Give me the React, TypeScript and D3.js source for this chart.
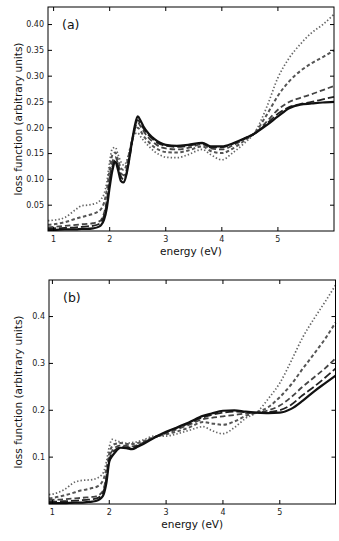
import React from "react";
import * as d3 from "d3";

// panel (a)
const energyA = [0.9, 1.0, 1.2, 1.4, 1.5, 1.6, 1.7, 1.8, 1.85, 1.9, 1.95, 2.0, 2.05, 2.1, 2.15, 2.2, 2.25, 2.3, 2.35, 2.4, 2.45, 2.5, 2.55, 2.6, 2.7, 2.8, 2.9, 3.0, 3.2, 3.4, 3.65, 3.8, 4.0, 4.2, 4.4, 4.6, 4.8, 5.0, 5.2, 5.4, 5.6, 5.8, 6.0];
const dottedA = [0.02, 0.021, 0.026, 0.042, 0.049, 0.05, 0.052, 0.056, 0.062, 0.072, 0.095, 0.135, 0.16, 0.162, 0.148, 0.134, 0.128, 0.135, 0.155, 0.175, 0.188, 0.19, 0.183, 0.176, 0.164, 0.154, 0.147, 0.143, 0.142, 0.148, 0.158, 0.148, 0.138, 0.152, 0.17, 0.193, 0.24, 0.297, 0.335, 0.362, 0.384, 0.4, 0.42];
const shortDashA = [0.012, 0.013, 0.017, 0.024, 0.027, 0.03, 0.033, 0.038, 0.043, 0.055, 0.08, 0.12, 0.148, 0.152, 0.137, 0.122, 0.118, 0.128, 0.152, 0.177, 0.195, 0.2, 0.194, 0.185, 0.172, 0.162, 0.156, 0.153, 0.152, 0.156, 0.164, 0.155, 0.151, 0.16, 0.175, 0.192, 0.225, 0.262, 0.29, 0.31, 0.325, 0.337, 0.35];
const dashA = [0.007, 0.008, 0.01, 0.012, 0.013, 0.014, 0.015, 0.018, 0.022, 0.035, 0.06, 0.105, 0.135, 0.143, 0.13, 0.113, 0.108, 0.118, 0.145, 0.175, 0.198, 0.21, 0.203, 0.194, 0.18, 0.17, 0.163, 0.16, 0.158, 0.161, 0.168, 0.16, 0.158, 0.166, 0.178, 0.19, 0.212, 0.235, 0.25, 0.258, 0.265, 0.273, 0.281];
const longDashA = [0.004, 0.005, 0.006, 0.007, 0.008, 0.009, 0.01, 0.013, 0.018, 0.03, 0.055, 0.095, 0.125, 0.138, 0.125, 0.106, 0.1, 0.112, 0.14, 0.172, 0.2, 0.215, 0.209, 0.199, 0.185, 0.175, 0.168, 0.165, 0.163, 0.165, 0.17, 0.162, 0.162, 0.169, 0.179, 0.19, 0.208, 0.227, 0.24, 0.246, 0.25, 0.255, 0.26];
const solidA = [0.002, 0.002, 0.003, 0.003, 0.004, 0.004, 0.005, 0.008, 0.012, 0.022, 0.045, 0.085, 0.118, 0.134, 0.118, 0.097, 0.094, 0.11, 0.14, 0.175, 0.205, 0.222, 0.214, 0.203, 0.188, 0.178, 0.171, 0.167, 0.165, 0.167, 0.171, 0.164, 0.164, 0.17, 0.179, 0.19, 0.205, 0.222, 0.238, 0.245, 0.247, 0.249, 0.25];
const yTicksA = [0.05, 0.1, 0.15, 0.2, 0.25, 0.3, 0.35, 0.4];

// panel (b)
const energyB = [0.94, 1.0, 1.2, 1.4, 1.5, 1.6, 1.7, 1.8, 1.85, 1.9, 1.95, 2.0, 2.05, 2.1, 2.2, 2.3, 2.4, 2.5, 2.6, 2.8, 3.0, 3.2, 3.4, 3.65, 3.8, 4.0, 4.2, 4.4, 4.6, 4.8, 5.0, 5.2, 5.4, 5.6, 5.8, 5.98];
const dottedB = [0.02, 0.021, 0.03, 0.047, 0.05, 0.051, 0.052, 0.056, 0.06, 0.068, 0.09, 0.122, 0.138, 0.136, 0.132, 0.13, 0.131, 0.133, 0.137, 0.145, 0.145, 0.15, 0.157, 0.165, 0.157, 0.15, 0.163, 0.183, 0.196, 0.225, 0.258, 0.305, 0.355, 0.395, 0.432, 0.467];
const shortDashB = [0.012, 0.013, 0.018, 0.025, 0.029, 0.031, 0.034, 0.038, 0.043, 0.053, 0.075, 0.108, 0.123, 0.128, 0.13, 0.128, 0.128, 0.13, 0.134, 0.143, 0.149, 0.155, 0.163, 0.175, 0.172, 0.169, 0.176, 0.188, 0.196, 0.207, 0.228, 0.255, 0.288, 0.32, 0.353, 0.387];
const dashB = [0.009, 0.009, 0.01, 0.012, 0.013, 0.014, 0.015, 0.018, 0.022, 0.032, 0.06, 0.1, 0.113, 0.12, 0.125, 0.124, 0.123, 0.126, 0.131, 0.142, 0.151, 0.16, 0.169, 0.181, 0.184, 0.187, 0.19, 0.193, 0.195, 0.2, 0.21, 0.228, 0.25, 0.27, 0.29, 0.311];
const longDashB = [0.005, 0.005, 0.006, 0.007, 0.008, 0.009, 0.01, 0.013, 0.017, 0.027, 0.055, 0.095, 0.108, 0.115, 0.122, 0.121, 0.12, 0.124, 0.13, 0.143, 0.153, 0.163, 0.172, 0.185, 0.19, 0.195, 0.197, 0.196, 0.195, 0.196, 0.2, 0.212, 0.232, 0.25, 0.27, 0.289];
const solidB = [0.002, 0.002, 0.002, 0.003, 0.003, 0.004, 0.005, 0.008, 0.012, 0.02, 0.045, 0.09, 0.102, 0.11, 0.12, 0.119, 0.117, 0.122, 0.128, 0.142, 0.154, 0.164, 0.174, 0.188, 0.193, 0.199, 0.2, 0.197, 0.195, 0.194, 0.195, 0.203, 0.22, 0.24, 0.258, 0.274];
const yTicksB = [0.1, 0.2, 0.3, 0.4];

const xTicks = [1, 2, 3, 4, 5];

// dotted, short dash, dash, long dash, solid (drawn in this order)
const styles = [
  { color: "#666", width: 1.7, dash: "1.4,2.1" },
  { color: "#555", width: 2, dash: "3.5,2.5" },
  { color: "#444", width: 1.8, dash: "5.5,3" },
  { color: "#222", width: 1.8, dash: "8,3" },
  { color: "#111", width: 2.2, dash: undefined as string | undefined },
];

type PanelProps = {
  energy: number[];
  series: number[][];
  xDomain: [number, number];
  yDomain: [number, number];
  yTicks: number[];
  fmt: string;
  box: { left: number; right: number; top: number; bottom: number };
  tag: string;
};

const Panel = ({ energy, series, xDomain, yDomain, yTicks, fmt, box, tag }: PanelProps) => {
  const x = d3.scaleLinear().domain(xDomain).range([box.left, box.right]);
  const y = d3.scaleLinear().domain(yDomain).range([box.bottom, box.top]);
  const line = d3
    .line<number>()
    .x((_, i) => x(energy[i]))
    .y(d => y(d))
    .curve(d3.curveMonotoneX);
  const format = d3.format(fmt);
  const tl = 4;
  const midY = (box.top + box.bottom) / 2;
  return (
    <g>
      <defs>
        <clipPath id={`clip-${tag}`}>
          <rect x={box.left} y={box.top} width={box.right - box.left} height={box.bottom - box.top} />
        </clipPath>
      </defs>
      <g clipPath={`url(#clip-${tag})`}>
        {series.map((s, i) => (
          <path
            key={i}
            d={line(s) ?? ""}
            fill="none"
            stroke={styles[i].color}
            strokeWidth={styles[i].width}
            strokeDasharray={styles[i].dash}
            strokeLinejoin="round"
          />
        ))}
      </g>
      <rect
        x={box.left}
        y={box.top}
        width={box.right - box.left}
        height={box.bottom - box.top}
        fill="none"
        stroke="#000"
        strokeWidth={1}
      />
      {xTicks.map(t => (
        <g key={t}>
          <line x1={x(t)} x2={x(t)} y1={box.bottom} y2={box.bottom - tl} stroke="#000" />
          <line x1={x(t)} x2={x(t)} y1={box.top} y2={box.top + tl} stroke="#000" />
          <text x={x(t)} y={box.bottom + 11} textAnchor="middle" fontSize={8} fill="#222">
            {t}
          </text>
        </g>
      ))}
      {yTicks.map(t => (
        <g key={t}>
          <line x1={box.left} x2={box.left + tl} y1={y(t)} y2={y(t)} stroke="#000" />
          <line x1={box.right} x2={box.right - tl} y1={y(t)} y2={y(t)} stroke="#000" />
          <text x={box.left - 4} y={y(t)} dy="0.35em" textAnchor="end" fontSize={8} fill="#222">
            {format(t)}
          </text>
        </g>
      ))}
      <text x={box.left + 14} y={box.top + 22} fontSize={12.5} fill="#111">
        {tag}
      </text>
      <text x={(box.left + box.right) / 2} y={box.bottom + 24} textAnchor="middle" fontSize={10.5} fill="#111">
        energy (eV)
      </text>
      <text
        transform={`translate(22,${midY}) rotate(-90)`}
        textAnchor="middle"
        fontSize={10.5}
        fill="#111"
      >
        loss function (arbitrary units)
      </text>
    </g>
  );
};

const App = () => (
  <svg
    width={339}
    height={541}
    style={{ position: "absolute", left: 0, top: 0, background: "#fff" }}
    fontFamily="'DejaVu Sans', sans-serif"
  >
    <Panel
      energy={energyA}
      series={[dottedA, shortDashA, dashA, longDashA, solidA]}
      xDomain={[0.9, 6.0]}
      yDomain={[0, 0.434]}
      yTicks={yTicksA}
      fmt=".2f"
      box={{ left: 48, right: 334, top: 7, bottom: 231 }}
      tag="(a)"
    />
    <Panel
      energy={energyB}
      series={[dottedB, shortDashB, dashB, longDashB, solidB]}
      xDomain={[0.94, 5.98]}
      yDomain={[0, 0.478]}
      yTicks={yTicksB}
      fmt=".1f"
      box={{ left: 49, right: 335.5, top: 280, bottom: 504 }}
      tag="(b)"
    />
  </svg>
);

export default App;
